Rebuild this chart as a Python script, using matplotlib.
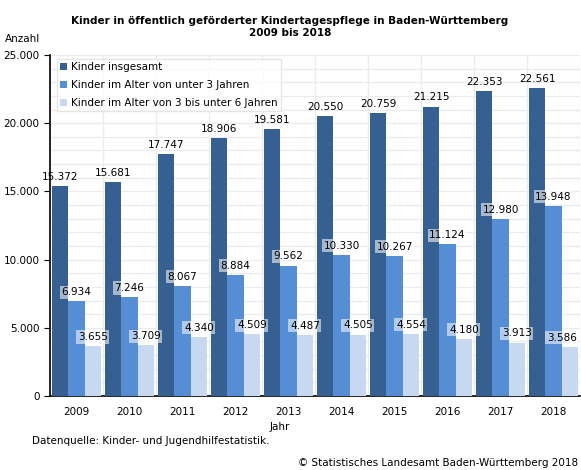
import numpy as np
import matplotlib
matplotlib.use("Agg")
from matplotlib import pyplot as plt
from matplotlib.ticker import FuncFormatter, MultipleLocator

years = ['2009', '2010', '2011', '2012', '2013', '2014', '2015', '2016', '2017', '2018']
insgesamt = [15372, 15681, 17747, 18906, 19581, 20550, 20759, 21215, 22353, 22561]
unter3 = [6934, 7246, 8067, 8884, 9562, 10330, 10267, 11124, 12980, 13948]
drei_bis_6 = [3655, 3709, 4340, 4509, 4487, 4505, 4554, 4180, 3913, 3586]
series_names = ['Kinder insgesamt',
                'Kinder im Alter von unter 3 Jahren',
                'Kinder im Alter von 3 bis unter 6 Jahren']
colors = ['#376092', '#558ED5', '#C6D9F1']

def de(v, pos=None):
    return '{:,.0f}'.format(v).replace(',', '.')

plt.rcParams['font.family'] = ['DejaVu Sans']
fig = plt.figure(figsize=(5.81, 4.70), dpi=100)
ax = fig.add_axes([50/581, 74/470, 530/581, 341/470])

x = np.arange(len(years))
w = 0.31
allseries = [insgesamt, unter3, drei_bis_6]
for i, (vals, name, c) in enumerate(zip(allseries, series_names, colors)):
    pos = x + (i - 1) * w
    bars = ax.bar(pos, vals, width=w, color=c, label=name, zorder=3)
    for j, (b, v) in enumerate(zip(bars, vals)):
        box = None
        if i > 0:
            box = dict(boxstyle='square,pad=0.15', fc='white', ec='none', alpha=0.55)
        dx = 0
        # keep the last label inside the plot area, as in the original
        if i == 2 and j == len(vals) - 1:
            dx = -6
        ax.annotate(de(v), (b.get_x() + b.get_width()/2, v),
                    xytext=(dx, 3), textcoords='offset points',
                    ha='center', va='bottom', fontsize=7.5, color='black',
                    bbox=box, zorder=4, annotation_clip=False)

ax.set_xlim(-0.5, len(years) - 0.5)
ax.set_ylim(0, 25000)
ax.yaxis.set_major_locator(MultipleLocator(5000))
ax.yaxis.set_minor_locator(MultipleLocator(1000))
ax.yaxis.set_major_formatter(FuncFormatter(de))
ax.set_xticks(x)
ax.set_xticklabels(years)
ax.set_xticks(np.arange(-0.5, len(years)), minor=True)
ax.grid(which='both', axis='y', color='#ebebeb', lw=0.9, zorder=0)
ax.grid(which='minor', axis='x', color='#ebebeb', lw=0.9, zorder=0)
ax.tick_params(axis='x', which='both', length=0, labelsize=7.5, pad=8)
ax.tick_params(axis='y', which='major', length=4, labelsize=7.5, direction='out')
ax.tick_params(axis='y', which='minor', length=0)
for s in ['top', 'right']:
    ax.spines[s].set_visible(False)
ax.spines['left'].set_linewidth(1.2)
ax.spines['bottom'].set_linewidth(1.2)

leg = ax.legend(loc='upper left', bbox_to_anchor=(0.003, 1.003), fontsize=7.5,
                frameon=True, fancybox=False, handlelength=0.7, handleheight=0.7,
                handletextpad=0.4, borderpad=0.3, labelspacing=0.75)
leg.get_frame().set_edgecolor('#e0e0e0')
leg.get_frame().set_linewidth(1.0)

fig.text(290/581, 1 - 27/470,
         'Kinder in öffentlich geförderter Kindertagespflege in Baden-Württemberg\n2009 bis 2018',
         ha='center', va='center', fontsize=7.5, fontweight='bold', linespacing=1.35)
fig.text(5/581, 1 - 39/470, 'Anzahl', ha='left', va='center', fontsize=7.5)
fig.text(270/581, 1 - 427/470, 'Jahr', ha='left', va='center', fontsize=7.5)
fig.text(32/581, 1 - 441/470, 'Datenquelle: Kinder- und Jugendhilfestatistik.', ha='left', va='center', fontsize=7.5)
fig.text(578/581, 1 - 463/470, '© Statistisches Landesamt Baden-Württemberg 2018', ha='right', va='center', fontsize=7.5)

fig.savefig('out.png', dpi=100)
